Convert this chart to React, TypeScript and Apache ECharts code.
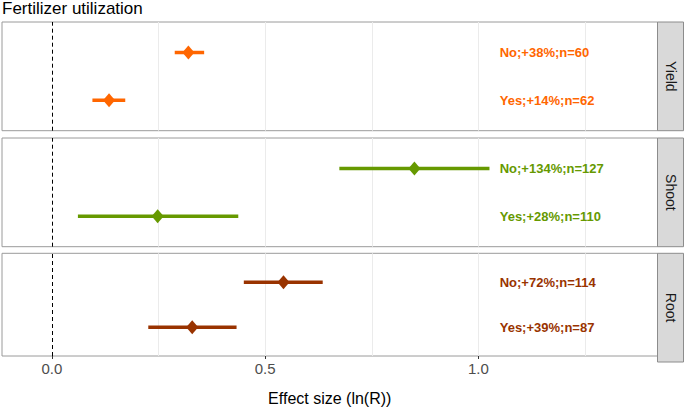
import React, { useEffect, useRef } from "react";
import * as echarts from "echarts";

const facets = ["Yield", "Shoot", "Root"];
const groups = ["Yes", "No"]; // y index 1 = Yes (bottom), 2 = No (top)
const facetColors = ["#FF6600", "#669900", "#993300"];

// per facet: [Yes, No]
const estimates = [
  [0.134, 0.32],
  [0.248, 0.85],
  [0.329, 0.543],
];
const lowerCI = [
  [0.095, 0.288],
  [0.061, 0.674],
  [0.226, 0.45],
];
const upperCI = [
  [0.172, 0.357],
  [0.437, 1.026],
  [0.433, 0.635],
];
const labels = [
  ["Yes;+14%;n=62", "No;+38%;n=60"],
  ["Yes;+28%;n=110", "No;+134%;n=127"],
  ["Yes;+39%;n=87", "No;+72%;n=114"],
];
const labelX = 1.05;
const gridValues = [0.25, 0.5, 0.75, 1.0, 1.25];
const tickValues = [0, 0.5, 1.0];
const xMin = -0.117;
const xMax = 1.42;

const FONT = "Liberation Sans, Arial, sans-serif";

export default function App() {
  const ref = useRef<HTMLDivElement>(null);

  useEffect(() => {
    if (!ref.current) return;
    const chart = echarts.init(ref.current, undefined, { renderer: "svg" });

    const panelLeft = 2;
    const panelRight = 657.5;
    const panelTops = [22, 138, 253.3];
    const panelH = 108.7;
    const stripW = 26;

    const grids = panelTops.map((t) => ({
      left: panelLeft,
      top: t,
      width: panelRight - panelLeft,
      height: panelH,
      show: true,
      borderColor: "#9A9A9A",
      borderWidth: 1,
      backgroundColor: "#fff",
      containLabel: false,
    }));

    const xAxes = facets.map((_, i) => {
      const last = i === facets.length - 1;
      return {
        type: "value",
        gridIndex: i,
        min: xMin,
        max: xMax,
        splitLine: { show: false },
        axisLine: { show: false },
        axisTick: {
          show: last,
          length: 3,
          lineStyle: { color: "#333" },
          customValues: tickValues,
        },
        axisLabel: {
          show: last,
          customValues: tickValues,
          formatter: (v: number) => v.toFixed(1),
          color: "#4D4D4D",
          fontSize: 15,
          fontFamily: FONT,
          margin: 5,
        },
        name: last ? "Effect size (ln(R))" : "",
        nameLocation: "middle",
        nameGap: 34,
        nameTextStyle: { color: "#000", fontSize: 16, fontFamily: FONT },
      };
    });

    const yAxes = facets.map((_, i) => ({
      type: "value",
      gridIndex: i,
      min: 0.36,
      max: 2.64,
      show: false,
      splitLine: { show: false },
    }));

    const series: any[] = [];
    facets.forEach((f, i) => {
      const color = facetColors[i];
      // gridlines + zero line
      series.push({
        type: "scatter",
        xAxisIndex: i,
        yAxisIndex: i,
        data: [],
        silent: true,
        z: 1,
        markLine: {
          silent: true,
          z: 1,
          symbol: "none",
          label: { show: false },
          animation: false,
          data: [
            ...gridValues.map((v) => ({
              xAxis: v,
              lineStyle: { color: "#EBEBEB", width: 1, type: "solid" },
            })),
            { xAxis: 0, lineStyle: { color: "#000", width: 1, type: [4, 3] } },
          ],
        },
      });
      // error bars
      series.push({
        type: "custom",
        xAxisIndex: i,
        yAxisIndex: i,
        z: 3,
        silent: true,
        data: groups.map((_, g) => [lowerCI[i][g], upperCI[i][g], g + 1]),
        encode: { x: [0, 1], y: 2 },
        renderItem: (params: any, api: any) => {
          const y = api.value(2);
          const p1 = api.coord([api.value(0), y]);
          const p2 = api.coord([api.value(1), y]);
          return {
            type: "line",
            shape: { x1: p1[0], y1: p1[1], x2: p2[0], y2: p2[1] },
            style: { stroke: color, lineWidth: 3.5, lineCap: "butt" },
          };
        },
      });
      // points
      series.push({
        type: "scatter",
        xAxisIndex: i,
        yAxisIndex: i,
        z: 4,
        silent: true,
        symbol: "diamond",
        symbolSize: [12, 14],
        itemStyle: { color, opacity: 1, borderWidth: 0 },
        data: groups.map((_, g) => [estimates[i][g], g + 1]),
      });
      // labels
      series.push({
        type: "custom",
        xAxisIndex: i,
        yAxisIndex: i,
        z: 5,
        silent: true,
        data: groups.map((_, g) => [labelX, g + 1]),
        encode: { x: 0, y: 1 },
        renderItem: (params: any, api: any) => {
          const p = api.coord([api.value(0), api.value(1)]);
          return {
            type: "text",
            x: p[0],
            y: p[1],
            style: {
              text: labels[i][params.dataIndex],
              fill: color,
              font: `bold 13px ${FONT}`,
              textAlign: "left",
              textVerticalAlign: "middle",
            },
          };
        },
      });
    });

    const graphics: any[] = [];
    panelTops.forEach((t, i) => {
      graphics.push({
        type: "rect",
        shape: { x: panelRight, y: t, width: stripW, height: panelH },
        style: { fill: "#D9D9D9", stroke: "#8C8C8C", lineWidth: 1 },
      });
      graphics.push({
        type: "text",
        x: panelRight + stripW / 2,
        y: t + panelH / 2,
        rotation: -Math.PI / 2,
        style: {
          text: facets[i],
          fill: "#1A1A1A",
          font: `14px ${FONT}`,
          textAlign: "center",
          textVerticalAlign: "middle",
        },
      });
    });
    graphics.push({
      type: "text",
      left: 2,
      top: 0,
      style: {
        text: "Fertilizer utilization",
        fill: "#000",
        font: `17px ${FONT}`,
      },
    });

    chart.setOption({
      animation: false,
      backgroundColor: "#fff",
      grid: grids,
      xAxis: xAxes,
      yAxis: yAxes,
      series,
      graphic: graphics,
    });

    return () => chart.dispose();
  }, []);

  return (
    <div
      ref={ref}
      style={{ position: "absolute", left: 0, top: 0, width: 685, height: 407 }}
    />
  );
}
